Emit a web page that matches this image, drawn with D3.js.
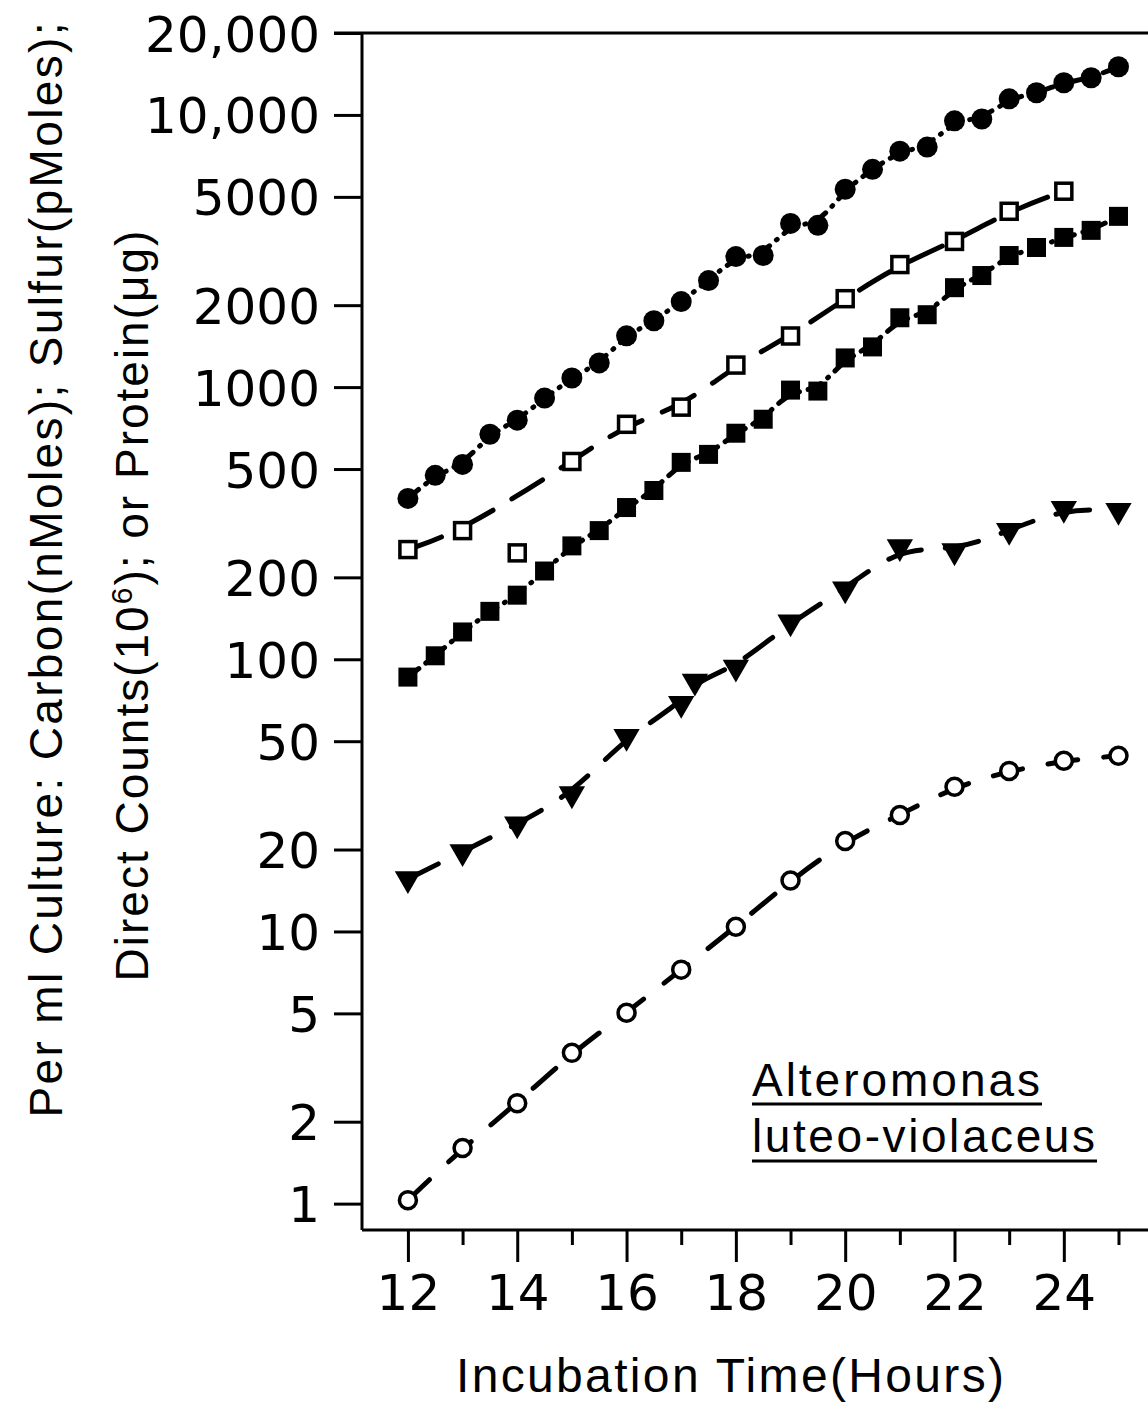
<html>
  <head>
    <script src="https://d3js.org/d3.v7.min.js"></script>
  </head>
  <body style="margin:0;background:#fff;">
    <div id="chart"></div>
    <script>
      // values (log scale, per ml culture)
      const halfHours = [12,12.5,13,13.5,14,14.5,15,15.5,16,16.5,17,17.5,18,18.5,19,19.5,20,20.5,21,21.5,22,22.5,23,23.5,24,24.5,25];
      const carbon = [390,474,520,671,756,911,1080,1227,1543,1753,2061,2462,3017,3044,3993,3929,5333,6310,7360,7620,9510,9660,11460,12060,13130,13700,15030];
      const protein = [86,103,126,150,172,211,261,297,361,417,529,566,677,762,975,967,1280,1405,1798,1845,2319,2570,3044,3258,3548,3766,4240];

      const sulfurHours = [12,13,14,15,16,17,18,19,20,21,22,23,24];
      const sulfur = [253,297,246,533,730,844,1205,1541,2113,2820,3430,4426,5245];
      const sulfurOffLine = [14]; // plotted point not on the fitted line

      const countHours = [12,13,14,15,16,17,17.25,18,19,20,21,22,23,24,25];
      const counts = [15.6,19.6,24.8,32,52,68.8,83,93.4,137,181,259,250,297,358,352];

      const odHours = [12,13,14,15,16,17,18,19,20,21,22,23,24,25];
      const other = [1.03,1.6,2.34,3.58,5.03,7.24,10.4,15.4,21.5,26.8,34,38.9,42.4,44.2];

      const yTicks = [1,2,5,10,20,50,100,200,500,1000,2000,5000,10000,20000];
      const yTickLabels = ["1","2","5","10","20","50","100","200","500","1000","2000","5000","10,000","20,000"];
      const xTicks = [12,13,14,15,16,17,18,19,20,21,22,23,24,25];

      const width = 1148, height = 1406;
      const tickFont = "'DejaVu Sans', sans-serif";
      const textFont = "'Liberation Sans', Arial, sans-serif";

      const svg = d3.create('svg')
        .attr('width', width)
        .attr('height', height)
        .style('background', '#fff');

      const x = d3.scaleLinear().domain([11.16, 25.54]).range([362, 1148]);
      const y = d3.scaleLog().domain([0.8, 20000]).range([1230, 33]);

      // frame: left axis, bottom axis, top line
      svg.append('line').attr('x1', x(11.16)).attr('x2', x(11.16)).attr('y1', y(20000)).attr('y2', y(0.8))
        .attr('stroke', '#000').attr('stroke-width', 3);
      svg.append('line').attr('x1', x(11.16)).attr('x2', width).attr('y1', y(0.8)).attr('y2', y(0.8))
        .attr('stroke', '#000').attr('stroke-width', 3);
      svg.append('line').attr('x1', x(11.16) - 28).attr('x2', width).attr('y1', y(20000)).attr('y2', y(20000))
        .attr('stroke', '#000').attr('stroke-width', 3);

      // y axis
      const yAxis = svg.append('g')
        .attr('transform', `translate(${x(11.16)},0)`)
        .call(d3.axisLeft(y).tickValues(yTicks).tickSize(28).tickPadding(14)
          .tickFormat((d, i) => yTickLabels[i]));
      yAxis.select('.domain').remove();
      yAxis.selectAll('.tick line').attr('stroke-width', 3);
      yAxis.selectAll('.tick text')
        .attr('font-family', tickFont).attr('font-size', 50).attr('fill', '#000')
        .attr('dy', '0.36em');

      // x axis: long ticks on even hours, short on odd
      const xAxis = svg.append('g')
        .attr('transform', `translate(0,${y(0.8)})`)
        .call(d3.axisBottom(x).tickValues(xTicks).tickSize(32).tickPadding(12)
          .tickFormat(d => d % 2 === 0 ? d : ''));
      xAxis.select('.domain').remove();
      xAxis.selectAll('.tick line')
        .attr('stroke-width', 3)
        .attr('y2', d => d % 2 === 0 ? 32 : 15);
      xAxis.selectAll('.tick text')
        .attr('font-family', tickFont).attr('font-size', 50).attr('fill', '#000');

      // axis titles
      svg.append('text')
        .attr('x', 730).attr('y', 1392)
        .attr('text-anchor', 'middle')
        .attr('font-family', textFont).attr('font-size', 48)
        .attr('textLength', 548).attr('lengthAdjust', 'spacing')
        .text('Incubation Time(Hours)');

      const yTitle = svg.append('g').attr('transform', 'translate(62,570) rotate(-90)');
      yTitle.append('text')
        .attr('text-anchor', 'middle')
        .attr('font-family', textFont).attr('font-size', 46)
        .attr('textLength', 1095).attr('lengthAdjust', 'spacing')
        .text('Per ml Culture: Carbon(nMoles); Sulfur(pMoles);');
      const line2 = yTitle.append('text')
        .attr('x', -35).attr('y', 86)
        .attr('text-anchor', 'middle')
        .attr('font-family', textFont).attr('font-size', 46)
        .attr('letter-spacing', 2);
      line2.append('tspan').text('Direct Counts(10');
      line2.append('tspan').attr('dy', -16).attr('font-size', 30).text('6');
      line2.append('tspan').attr('dy', 16).text('); or Protein(\u03BCg)');

      // species label
      const label = svg.append('g').attr('font-family', textFont).attr('font-size', 46);
      label.append('text').attr('x', 752).attr('y', 1096)
        .attr('textLength', 288).attr('lengthAdjust', 'spacing').text('Alteromonas');
      label.append('text').attr('x', 752).attr('y', 1152)
        .attr('textLength', 343).attr('lengthAdjust', 'spacing').text('luteo-violaceus');
      label.append('line').attr('x1', 752).attr('x2', 1042).attr('y1', 1104).attr('y2', 1104)
        .attr('stroke', '#000').attr('stroke-width', 3);
      label.append('line').attr('x1', 752).attr('x2', 1097).attr('y1', 1161).attr('y2', 1161)
        .attr('stroke', '#000').attr('stroke-width', 3);

      // fitted lines (smoothed through the points)
      const line = d3.line().x(d => x(d[0])).y(d => y(d[1])).curve(d3.curveBasis);
      function drawLine(xs, ys, dash, skip) {
        const pts = xs.map((h, i) => [h, ys[i]]).filter(p => !(skip || []).includes(p[0]));
        svg.append('path')
          .attr('d', line(pts))
          .attr('fill', 'none')
          .attr('stroke', '#000')
          .attr('stroke-width', 5)
          .attr('stroke-linecap', 'round')
          .attr('stroke-dasharray', dash);
      }
      drawLine(halfHours, carbon, '14,9,1,9');
      drawLine(halfHours, protein, '14,9,1,9');
      drawLine(sulfurHours, sulfur, '36,22', sulfurOffLine);
      drawLine(countHours, counts, '34,24');
      drawLine(odHours, other, '30,26');

      // markers
      function pts(xs, ys) { return xs.map((h, i) => ({h: h, v: ys[i]})); }

      svg.append('g').selectAll('circle').data(pts(halfHours, carbon)).join('circle')
        .attr('cx', d => x(d.h)).attr('cy', d => y(d.v)).attr('r', 10.5).attr('fill', '#000');

      svg.append('g').selectAll('rect').data(pts(halfHours, protein)).join('rect')
        .attr('x', d => x(d.h) - 9.5).attr('y', d => y(d.v) - 9.5)
        .attr('width', 19).attr('height', 19).attr('fill', '#000');

      svg.append('g').selectAll('rect').data(pts(sulfurHours, sulfur)).join('rect')
        .attr('x', d => x(d.h) - 8).attr('y', d => y(d.v) - 8)
        .attr('width', 16).attr('height', 16)
        .attr('fill', '#fff').attr('stroke', '#000').attr('stroke-width', 3.5);

      const tri = d3.symbol().type(d3.symbolTriangle).size(300);
      svg.append('g').selectAll('path').data(pts(countHours, counts)).join('path')
        .attr('d', tri)
        .attr('transform', d => `translate(${x(d.h)},${y(d.v)}) rotate(180)`)
        .attr('fill', '#000');

      svg.append('g').selectAll('circle').data(pts(odHours, other)).join('circle')
        .attr('cx', d => x(d.h)).attr('cy', d => y(d.v)).attr('r', 8.5)
        .attr('fill', '#fff').attr('stroke', '#000').attr('stroke-width', 3.5);

      document.getElementById('chart').appendChild(svg.node());
    </script>
  </body>
</html>
